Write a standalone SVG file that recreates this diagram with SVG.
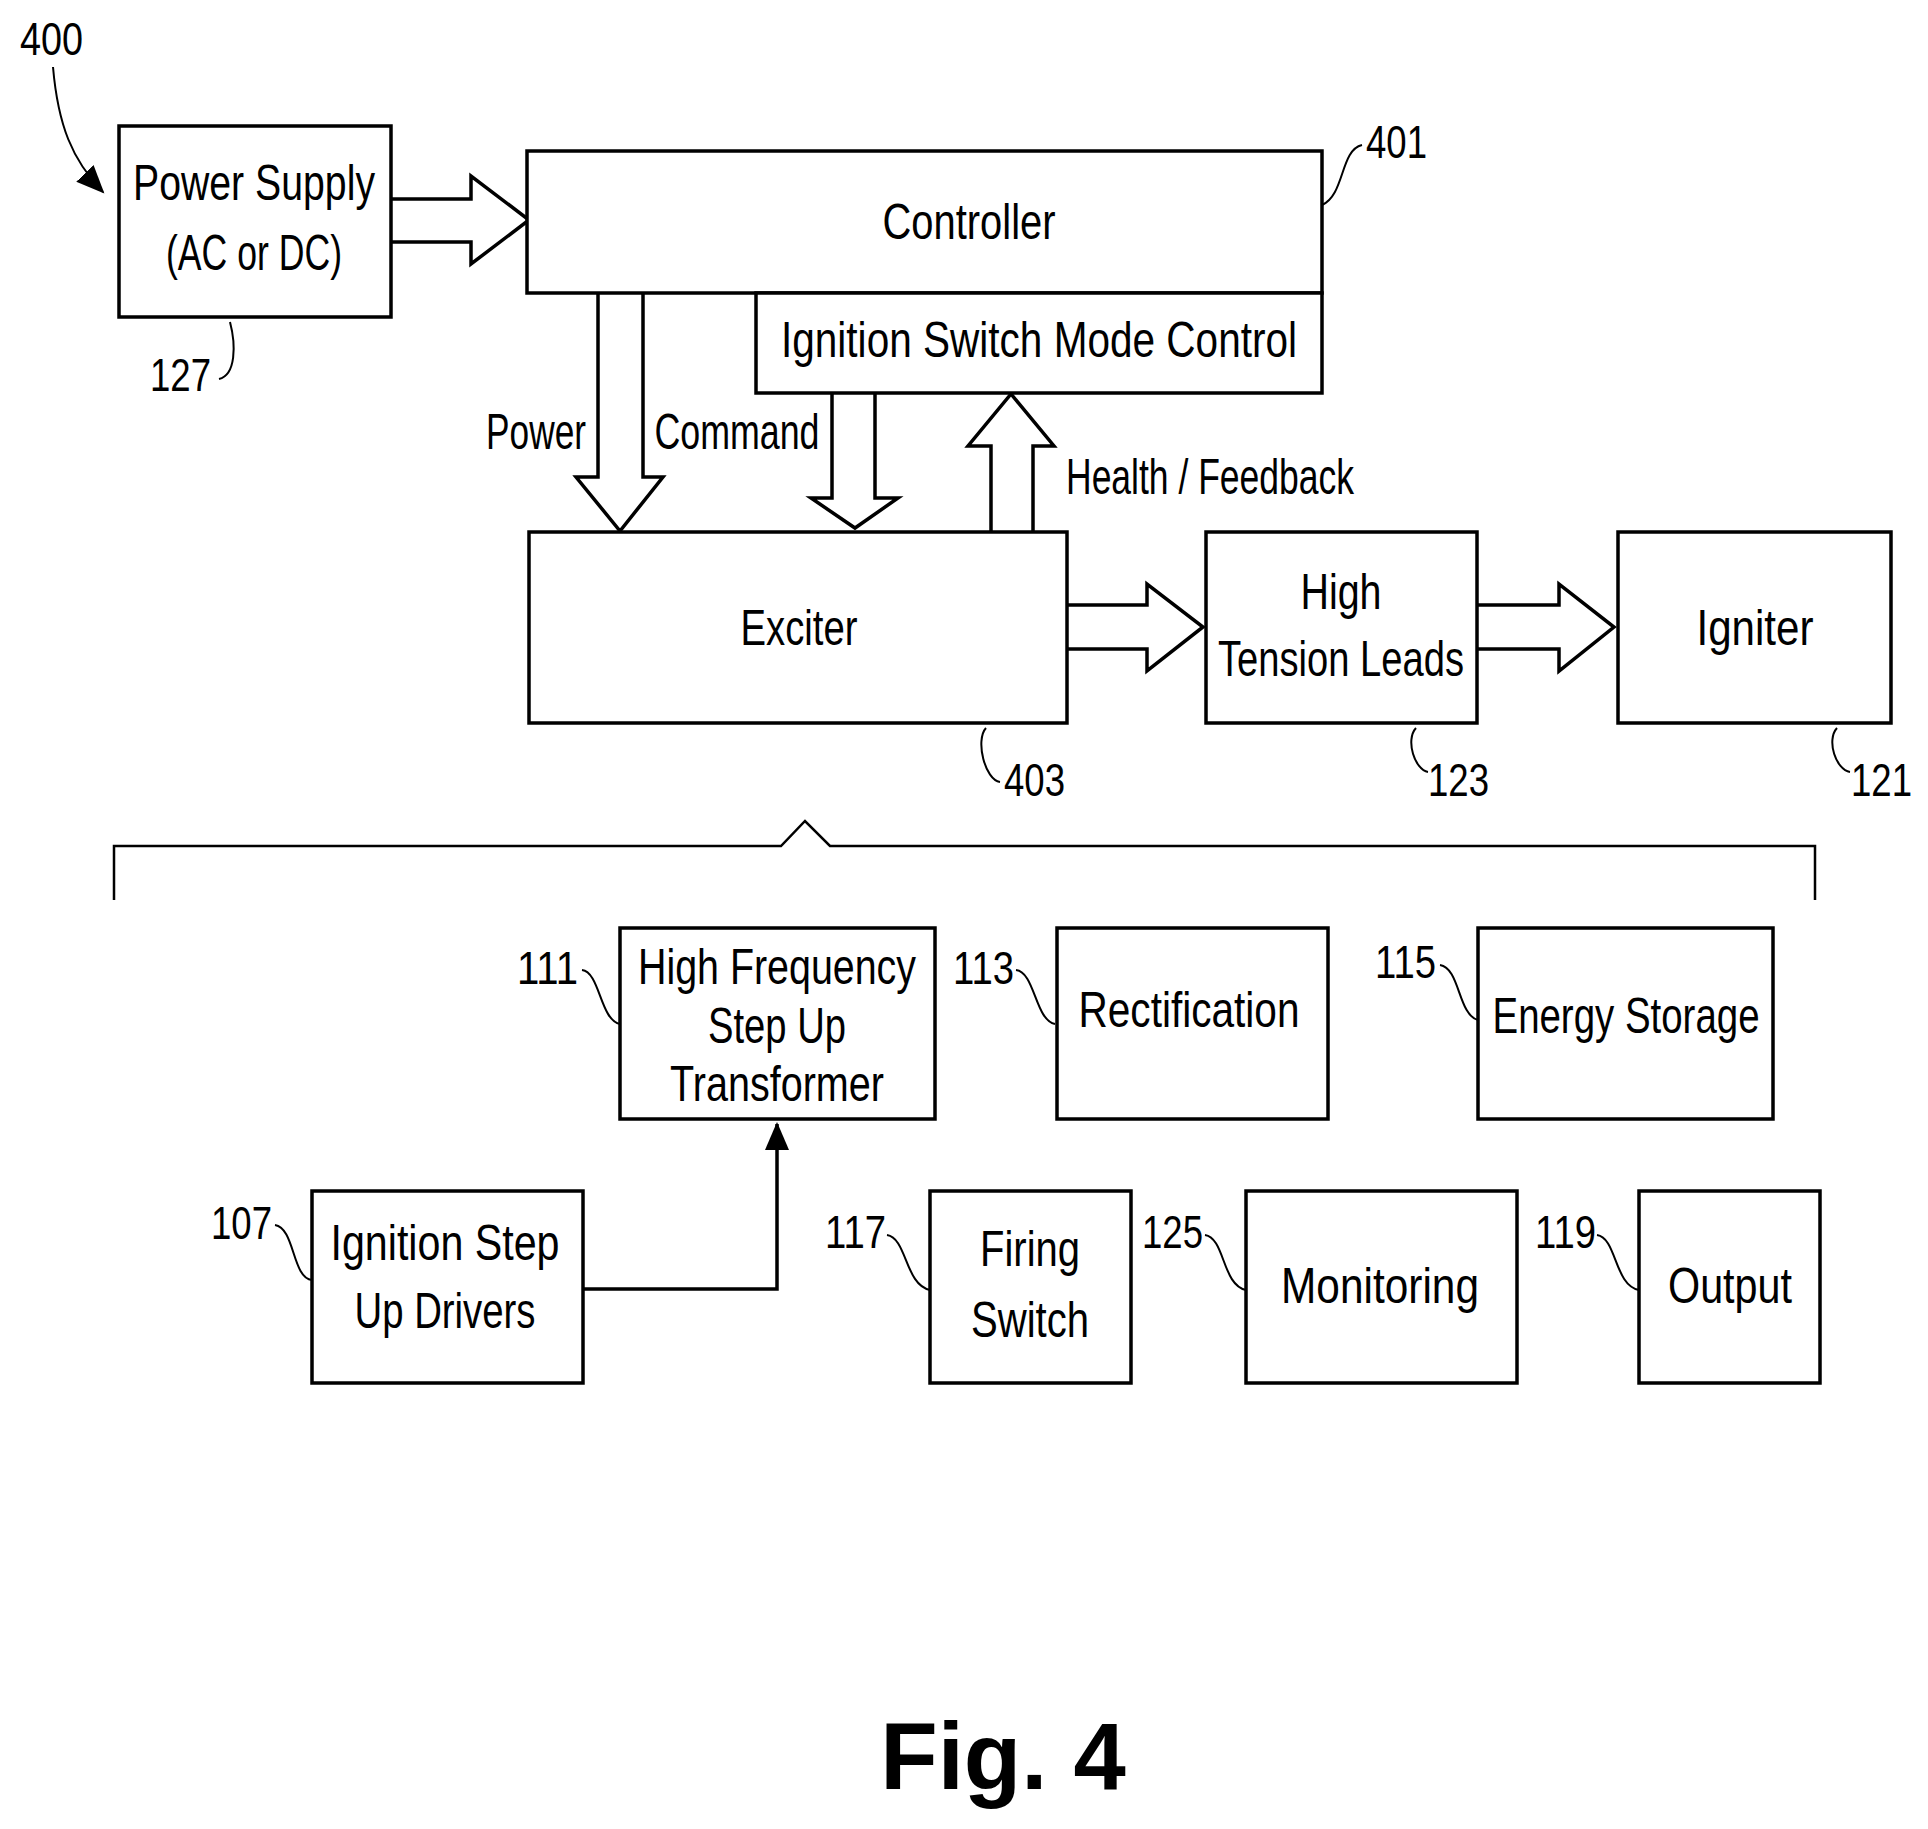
<svg xmlns="http://www.w3.org/2000/svg" width="1928" height="1829" viewBox="0 0 1928 1829">
<style>
.b{fill:#fff;stroke:#000;stroke-width:3.5}
.t{font-family:"Liberation Sans",Arial,sans-serif;font-size:50px;fill:#000;text-anchor:middle}
.n{font-family:"Liberation Sans",Arial,sans-serif;font-size:46px;fill:#000}
.a{fill:#fff;stroke:#000;stroke-width:3.5;stroke-linejoin:miter}
.l{fill:none;stroke:#000;stroke-width:2}
</style>
<defs>
<marker id="ah2" markerWidth="30" markerHeight="30" refX="26" refY="15" orient="auto" markerUnits="userSpaceOnUse" viewBox="0 0 30 30"><path d="M0,3 L28,15 L0,27 Z" fill="#000"/></marker>
</defs>
<rect width="1928" height="1829" fill="#fff"/>
<g id="connectors">
<path d="M392,199 H471 V176 L529,220 L471,264 V242 H392" class="a"/>
<path d="M598,294 V477 H576 L620,531 L663,477 H643 V294" class="a"/>
<path d="M832,394 V498 H811 L855,528 L898,498 H875 V394" class="a"/>
<path d="M991,531 V446 H968 L1011,394 L1054,446 H1033 V531" class="a"/>
<path d="M1068,605 H1147 V584 L1203,627 L1147,671 V649 H1068" class="a"/>
<path d="M1478,605 H1559 V584 L1614,627 L1559,671 V649 H1478" class="a"/>
<path d="M583,1289 H777 V1124" fill="none" stroke="#000" stroke-width="3.5" marker-end="url(#ah2)"/>
<path d="M114,900 V846 H781 L805,821 L830,846 H1815 V900" fill="none" stroke="#000" stroke-width="2.5"/>
<path d="M53,67 C58,125 72,160 103,192" class="l" marker-end="url(#ah2)"/>
<path d="M1322,205 C1345,195 1340,150 1362,145" class="l"/>
<path d="M230,322 C236,345 236,375 219,379" class="l"/>
<path d="M986,728 C975,740 985,780 1000,782" class="l"/>
<path d="M1416,728 C1405,740 1415,770 1428,772" class="l"/>
<path d="M1837,728 C1826,740 1836,770 1850,772" class="l"/>
<path d="M582,970 C600,972 600,1020 620,1024" class="l"/>
<path d="M1016,970 C1035,972 1035,1020 1055,1024" class="l"/>
<path d="M1440,965 C1460,968 1458,1015 1478,1020" class="l"/>
<path d="M275,1225 C295,1228 292,1278 312,1280" class="l"/>
<path d="M887,1235 C907,1238 905,1285 930,1290" class="l"/>
<path d="M1205,1235 C1225,1238 1222,1285 1246,1290" class="l"/>
<path d="M1597,1235 C1617,1238 1614,1285 1639,1290" class="l"/>
</g>
<g id="n400"><text class="n" x="20" y="55" textLength="63" lengthAdjust="spacingAndGlyphs">400</text></g>
<g id="powersupply"><rect class="b" x="119" y="126" width="272" height="191"/>
<text class="t" x="254" y="200" textLength="242" lengthAdjust="spacingAndGlyphs">Power Supply</text>
<text class="t" x="254" y="270" textLength="176" lengthAdjust="spacingAndGlyphs">(AC or DC)</text>
<text class="n" x="150" y="391" textLength="61" lengthAdjust="spacingAndGlyphs">127</text></g>
<g id="controller"><rect class="b" x="527" y="151" width="795" height="142"/>
<text class="t" x="969" y="239" textLength="173" lengthAdjust="spacingAndGlyphs">Controller</text>
<text class="n" x="1366" y="158" textLength="61" lengthAdjust="spacingAndGlyphs">401</text></g>
<g id="ismc"><rect class="b" x="756" y="293" width="566" height="100"/>
<text class="t" x="1039" y="357" textLength="516" lengthAdjust="spacingAndGlyphs">Ignition Switch Mode Control</text></g>
<g id="labels">
<text class="t" x="536" y="449" textLength="100" lengthAdjust="spacingAndGlyphs">Power</text>
<text class="t" x="737" y="449" textLength="165" lengthAdjust="spacingAndGlyphs">Command</text>
<text class="t" x="1210" y="494" textLength="288" lengthAdjust="spacingAndGlyphs">Health / Feedback</text>
</g>
<g id="exciter"><rect class="b" x="529" y="532" width="538" height="191"/>
<text class="t" x="799" y="645" textLength="117" lengthAdjust="spacingAndGlyphs">Exciter</text>
<text class="n" x="1004" y="796" textLength="61" lengthAdjust="spacingAndGlyphs">403</text></g>
<g id="htl"><rect class="b" x="1206" y="532" width="271" height="191"/>
<text class="t" x="1341" y="609" textLength="81" lengthAdjust="spacingAndGlyphs">High</text>
<text class="t" x="1341" y="676" textLength="246" lengthAdjust="spacingAndGlyphs">Tension Leads</text>
<text class="n" x="1428" y="796" textLength="61" lengthAdjust="spacingAndGlyphs">123</text></g>
<g id="igniter"><rect class="b" x="1618" y="532" width="273" height="191"/>
<text class="t" x="1755" y="645" textLength="117" lengthAdjust="spacingAndGlyphs">Igniter</text>
<text class="n" x="1851" y="796" textLength="61" lengthAdjust="spacingAndGlyphs">121</text></g>
<g id="hf"><rect class="b" x="620" y="928" width="315" height="191"/>
<text class="t" x="777" y="984" textLength="278" lengthAdjust="spacingAndGlyphs">High Frequency</text>
<text class="t" x="777" y="1043" textLength="138" lengthAdjust="spacingAndGlyphs">Step Up</text>
<text class="t" x="777" y="1101" textLength="214" lengthAdjust="spacingAndGlyphs">Transformer</text>
<text class="n" x="517" y="984" textLength="61" lengthAdjust="spacingAndGlyphs">111</text></g>
<g id="rect"><rect class="b" x="1057" y="928" width="271" height="191"/>
<text class="t" x="1189" y="1027" textLength="221" lengthAdjust="spacingAndGlyphs">Rectification</text>
<text class="n" x="953" y="984" textLength="61" lengthAdjust="spacingAndGlyphs">113</text></g>
<g id="es"><rect class="b" x="1478" y="928" width="295" height="191"/>
<text class="t" x="1626" y="1033" textLength="267" lengthAdjust="spacingAndGlyphs">Energy Storage</text>
<text class="n" x="1375" y="978" textLength="61" lengthAdjust="spacingAndGlyphs">115</text></g>
<g id="isud"><rect class="b" x="312" y="1191" width="271" height="192"/>
<text class="t" x="445" y="1260" textLength="229" lengthAdjust="spacingAndGlyphs">Ignition Step</text>
<text class="t" x="445" y="1328" textLength="181" lengthAdjust="spacingAndGlyphs">Up Drivers</text>
<text class="n" x="211" y="1239" textLength="61" lengthAdjust="spacingAndGlyphs">107</text></g>
<g id="fs"><rect class="b" x="930" y="1191" width="201" height="192"/>
<text class="t" x="1030" y="1266" textLength="100" lengthAdjust="spacingAndGlyphs">Firing</text>
<text class="t" x="1030" y="1337" textLength="118" lengthAdjust="spacingAndGlyphs">Switch</text>
<text class="n" x="825" y="1248" textLength="61" lengthAdjust="spacingAndGlyphs">117</text></g>
<g id="mon"><rect class="b" x="1246" y="1191" width="271" height="192"/>
<text class="t" x="1380" y="1303" textLength="198" lengthAdjust="spacingAndGlyphs">Monitoring</text>
<text class="n" x="1142" y="1248" textLength="61" lengthAdjust="spacingAndGlyphs">125</text></g>
<g id="out"><rect class="b" x="1639" y="1191" width="181" height="192"/>
<text class="t" x="1730" y="1303" textLength="124" lengthAdjust="spacingAndGlyphs">Output</text>
<text class="n" x="1535" y="1248" textLength="61" lengthAdjust="spacingAndGlyphs">119</text></g>
<g id="title"><text x="1003" y="1789" font-family="Liberation Sans,Arial,sans-serif" font-weight="bold" font-size="94" text-anchor="middle">Fig. 4</text></g>
</svg>
